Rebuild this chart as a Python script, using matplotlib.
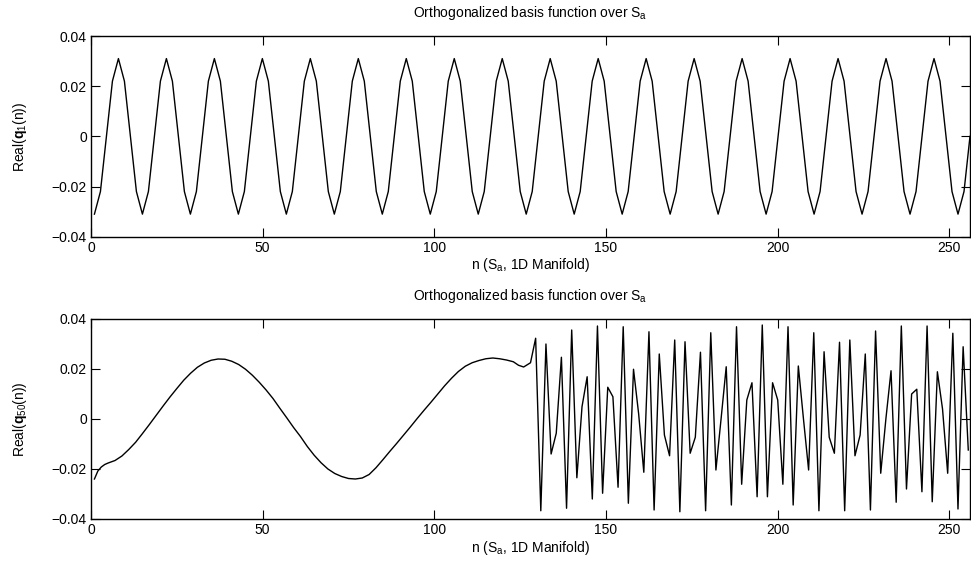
import numpy as np
import matplotlib
matplotlib.use("Agg")
import matplotlib.pyplot as plt
from matplotlib.ticker import FixedLocator, FixedFormatter

plt.rcParams['font.family'] = ['Liberation Sans', 'DejaVu Sans']
plt.rcParams['mathtext.fontset'] = 'custom'
plt.rcParams['mathtext.rm'] = 'Liberation Sans'
plt.rcParams['mathtext.it'] = 'Liberation Sans:italic'
plt.rcParams['mathtext.bf'] = 'Liberation Sans:bold'

# ---------------- data ----------------
title_text = r"Orthogonalized basis function over S$_\mathrm{a}$"
xlabel_text = r"n (S$_\mathrm{a}$, 1D Manifold)"
ylabel_top = r"Real($\mathbf{q}_\mathrm{1}$(n))"
ylabel_bot = r"Real($\mathbf{q}_\mathrm{50}$(n))"

x_ticks = [0, 50, 100, 150, 200, 250]
y_ticks = [-0.04, -0.02, 0.0, 0.02, 0.04]
y_tick_labels = ["\u22120.04", "\u22120.02", "0", "0.02", "0.04"]

# top series: 147 samples over n = 1..256
q1_n = np.linspace(1, 256, 147)
q1_vals = [
    -0.031, -0.022, 0.0, 0.022, 0.031, 0.022, 0.0, -0.022,
    -0.031, -0.022, 0.0, 0.022, 0.031, 0.022, 0.0, -0.022,
    -0.031, -0.022, 0.0, 0.022, 0.031, 0.022, 0.0, -0.022,
    -0.031, -0.022, 0.0, 0.022, 0.031, 0.022, 0.0, -0.022,
    -0.031, -0.022, 0.0, 0.022, 0.031, 0.022, 0.0, -0.022,
    -0.031, -0.022, 0.0, 0.022, 0.031, 0.022, 0.0, -0.022,
    -0.031, -0.022, 0.0, 0.022, 0.031, 0.022, 0.0, -0.022,
    -0.031, -0.022, 0.0, 0.022, 0.031, 0.022, 0.0, -0.022,
    -0.031, -0.022, 0.0, 0.022, 0.031, 0.022, 0.0, -0.022,
    -0.031, -0.022, 0.0, 0.022, 0.031, 0.022, 0.0, -0.022,
    -0.031, -0.022, 0.0, 0.022, 0.031, 0.022, 0.0, -0.022,
    -0.031, -0.022, 0.0, 0.022, 0.031, 0.022, 0.0, -0.022,
    -0.031, -0.022, 0.0, 0.022, 0.031, 0.022, 0.0, -0.022,
    -0.031, -0.022, 0.0, 0.022, 0.031, 0.022, 0.0, -0.022,
    -0.031, -0.022, 0.0, 0.022, 0.031, 0.022, 0.0, -0.022,
    -0.031, -0.022, 0.0, 0.022, 0.031, 0.022, 0.0, -0.022,
    -0.031, -0.022, 0.0, 0.022, 0.031, 0.022, 0.0, -0.022,
    -0.031, -0.022, 0.0, 0.022, 0.031, 0.022, 0.0, -0.022,
    -0.031, -0.022, 0.0,
]

# bottom series, smooth part (n = 1..128)
q50_smooth_n = [1, 2, 3, 4, 5, 7, 9, 11, 13, 15, 17, 19, 21, 23, 25, 27, 29, 31,
                33, 35, 37, 39, 41, 43, 45, 47, 49, 51, 53, 55, 57, 59, 61, 63,
                65, 67, 69, 71, 73, 75, 77, 79, 81, 83, 85, 87, 89, 91, 93, 95,
                97, 99, 101, 103, 105, 107, 109, 111, 113, 115, 117, 119, 121,
                123, 124.5, 126]
q50_smooth_vals = [-0.0240, -0.0208, -0.0192, -0.0182, -0.0176, -0.0166, -0.0148,
                   -0.0122, -0.0093, -0.0058, -0.0022, 0.0015, 0.0052, 0.0088,
                   0.0122, 0.0155, 0.0183, 0.0207, 0.0224, 0.0235, 0.0240, 0.0239,
                   0.0231, 0.0218, 0.0199, 0.0175, 0.0147, 0.0116, 0.0082, 0.0043,
                   0.0005, -0.0034, -0.0070, -0.0110, -0.0145, -0.0175, -0.0200,
                   -0.0218, -0.0230, -0.0238, -0.0240, -0.0236, -0.0222, -0.0195,
                   -0.0163, -0.0130, -0.0098, -0.0065, -0.0032, 0.0002, 0.0035,
                   0.0067, 0.0100, 0.0133, 0.0163, 0.0190, 0.0211, 0.0225, 0.0234,
                   0.0241, 0.0244, 0.0241, 0.0236, 0.0229, 0.0215, 0.0208]

# bottom series, oscillating part (n = 128..255.5, step 1.5)
q50_osc_n = np.arange(128, 256, 1.5)
q50_osc_vals = [
    0.0225, 0.0323, -0.0367, 0.0300, -0.0140, -0.0057, 0.0247, -0.0357,
    0.0356, -0.0235, 0.0049, 0.0169, -0.0320, 0.0372, -0.0297, 0.0127,
    0.0089, -0.0273, 0.0369, -0.0337, 0.0199, 0.0020, -0.0213, 0.0349,
    -0.0364, 0.0260, -0.0064, -0.0147, 0.0316, -0.0371, 0.0309, -0.0137,
    -0.0073, 0.0267, -0.0367, 0.0345, -0.0204, 0.0000, 0.0209, -0.0344,
    0.0369, -0.0261, 0.0076, 0.0145, -0.0311, 0.0376, -0.0311, 0.0145,
    0.0076, -0.0261, 0.0369, -0.0344, 0.0212, 0.0000, -0.0204, 0.0345,
    -0.0367, 0.0269, -0.0073, -0.0137, 0.0307, -0.0367, 0.0316, -0.0147,
    -0.0064, 0.0260, -0.0364, 0.0352, -0.0217, 0.0000, 0.0193, -0.0333,
    0.0372, -0.0280, 0.0100, 0.0119, -0.0291, 0.0372, -0.0331, 0.0189,
    0.0040, -0.0217, 0.0343, -0.0360, 0.0289, -0.0124,
]

q50_n = list(q50_smooth_n) + list(q50_osc_n)
q50_vals = list(q50_smooth_vals) + list(q50_osc_vals)

# ---------------- plot ----------------
fig = plt.figure(figsize=(9.71, 5.61), dpi=100)
ax1 = fig.add_axes([91/971, 1-236.7/561, 879/971, 200.7/561])
ax2 = fig.add_axes([91/971, 1-519/561, 879/971, 200/561])

for ax, xs, ys, ylab in [(ax1, q1_n, q1_vals, ylabel_top),
                         (ax2, q50_n, q50_vals, ylabel_bot)]:
    ax.plot(xs, ys, color='black', lw=1.0)
    ax.set_xlim(0, 256)
    ax.set_ylim(-0.04, 0.04)
    ax.xaxis.set_major_locator(FixedLocator(x_ticks))
    ax.yaxis.set_major_locator(FixedLocator(y_ticks))
    ax.yaxis.set_major_formatter(FixedFormatter(y_tick_labels))
    ax.tick_params(direction='in', length=6.5, width=0.8, top=True, right=True,
                   labelsize=10, pad=3, colors='black')
    for s in ax.spines.values():
        s.set_linewidth(1.0)
    ax.set_title(title_text, fontsize=10, pad=14)
    ax.set_xlabel(xlabel_text, fontsize=10, labelpad=1)
    ax.set_ylabel(ylab, fontsize=10, labelpad=16)

fig.savefig("out.png", dpi=100)
